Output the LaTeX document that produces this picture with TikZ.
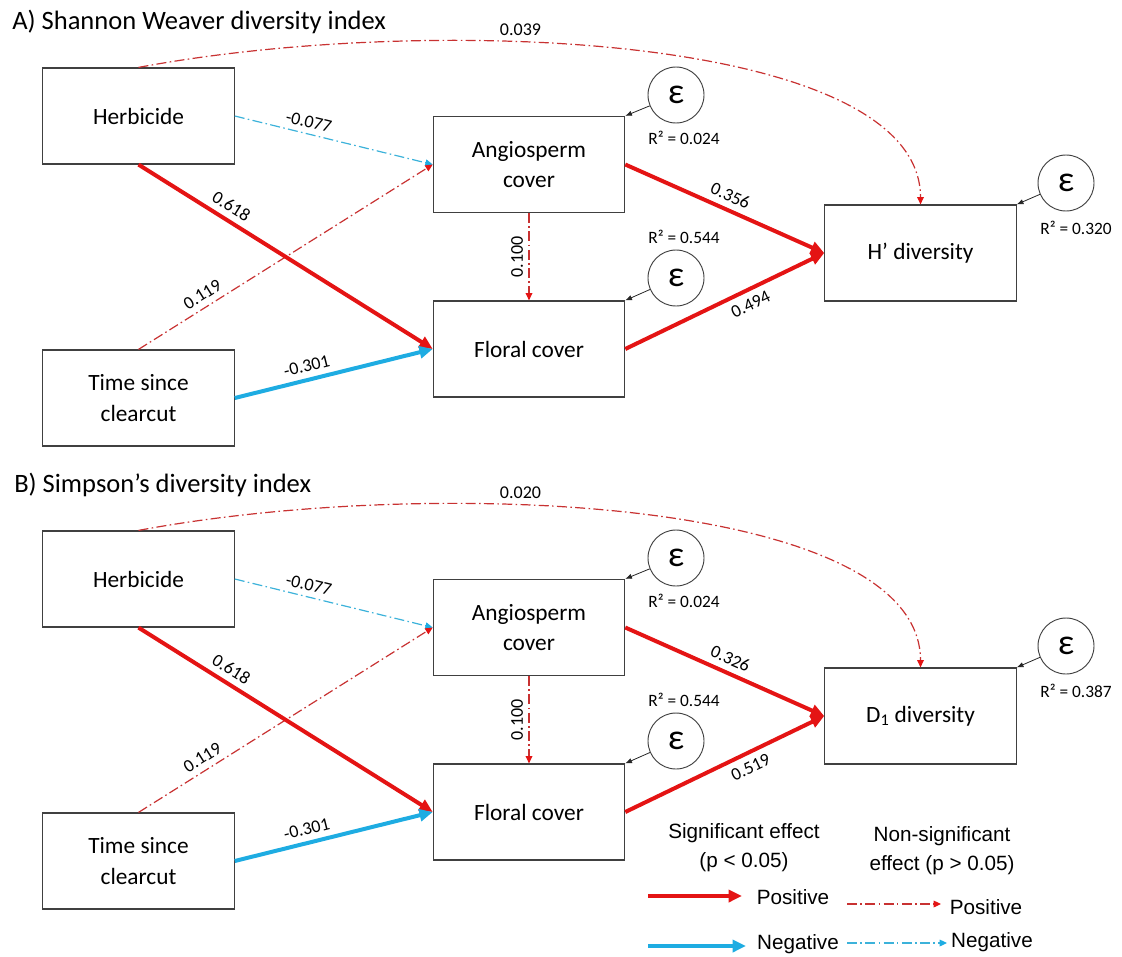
\documentclass[tikz,border=0pt]{standalone}
\usepackage{fontspec}
\setmainfont{Carlito}
\newfontfamily\legendfont{Liberation Sans}
\usepackage{xcolor}
\usepackage{tikz}
\usetikzlibrary{arrows.meta}

\definecolor{sigred}{RGB}{228,20,20}
\definecolor{sigblue}{RGB}{30,172,226}
\definecolor{nsred}{RGB}{200,50,50}
\definecolor{nsblue}{RGB}{60,178,218}

\begin{document}
\begin{tikzpicture}[
  x=0.75pt,y=-0.75pt,
  paneltitle/.style={font=\fontsize{19.9}{24}\selectfont,anchor=west,inner sep=0pt},
  var/.style={draw=black!75,line width=0.9pt,align=center,
    font=\fontsize{17.5}{23}\selectfont,minimum width=143.5pt,
    minimum height=72pt,inner sep=0pt},
  err/.style={circle,draw=black!75,line width=0.7pt,minimum size=42pt,
    inner sep=0pt,font=\fontsize{27}{27}\selectfont},
  rsq/.style={font=\fontsize{13}{15}\selectfont,inner sep=0pt},
  lab/.style={font=\fontsize{13.5}{15}\selectfont,inner sep=1.5pt},
  possig/.style={draw=sigred,line width=3pt,
    -{Triangle[length=10pt,width=9pt]}},
  negsig/.style={draw=sigblue,line width=3pt,
    -{Triangle[length=10pt,width=9pt]}},
  posns/.style={draw=nsred,line width=0.9pt,
    dash pattern=on 7.5pt off 2.5pt on 1.2pt off 2.5pt,
    -{Triangle[length=5.5pt,width=5pt,color=sigred]}},
  negns/.style={draw=nsblue,line width=0.9pt,
    dash pattern=on 7.5pt off 2.5pt on 1.2pt off 2.5pt,
    -{Triangle[length=5.5pt,width=5pt,color=sigblue]}},
  errarrow/.style={draw=black!85,line width=0.6pt,
    -{Latex[length=5pt,width=4pt]}},
  legend/.style={font=\legendfont\fontsize{15.5}{21.75}\selectfont,
    align=center,inner sep=0pt}
]
\useasboundingbox (0,0) rectangle (1122,957);

% A) Shannon Weaver
\node[paneltitle] (ta) at (12,22) {A) Shannon Weaver diversity index};
\node[var] (aherb) at (138.5,116) {Herbicide};
\node[var] (aang) at (529,164.5) {Angiosperm\\cover};
\node[var] (aflo) at (529,349) {Floral cover};
\node[var] (atime) at (138.5,398) {Time since\\clearcut};
\node[var] (adiv) at (920.5,253) {H’ diversity};
\node[err] (aeang) at (676,95) {ε};
\node[err] (aeflo) at (676,278) {ε};
\node[err] (aediv) at (1066,183) {ε};
\node[rsq] (arang) at (684,138) {R² = 0.024};
\node[rsq] (arflo) at (684,237) {R² = 0.544};
\node[rsq] (ardiv) at (1076,228) {R² = 0.320};

\draw[posns] (aherb.north) .. controls +(294.5,-55) and +(0,-170) ..
  (adiv.north) node[lab,pos=.38,above=3pt]{0.039};
\draw[negns] (aherb.east) -- node[lab,sloped,above=2.5pt,pos=.36]{-0.077} (aang.west);
\draw[posns] (atime.north) -- node[lab,sloped,above=3pt,pos=.24]{0.119} (aang.west);
\draw[posns] (aang.south) -- node[lab,rotate=90,anchor=south,pos=.5,yshift=2.5pt]{0.100} (aflo.north);
\draw[possig] (aherb.south) -- node[lab,sloped,above=3pt,pos=.29]{0.618} (aflo.west);
\draw[negsig] (atime.east) -- node[lab,sloped,above=3pt,pos=.38]{-0.301} (aflo.west);
\draw[possig] (aang.east) -- node[lab,sloped,above=3pt,pos=.5]{0.356} (adiv.west);
\draw[possig] (aflo.east) -- node[lab,sloped,below=3pt,pos=.6]{0.494} (adiv.west);
\foreach \e/\v in {aeang/aang,aeflo/aflo,aediv/adiv}
  \draw[errarrow] (\e) -- (\v.north east);

% B) Simpson
\node[paneltitle] (tb) at (14,485) {B) Simpson’s diversity index};
\node[var] (bherb) at (138.5,579) {Herbicide};
\node[var] (bang) at (529,627.5) {Angiosperm\\cover};
\node[var] (bflo) at (529,812) {Floral cover};
\node[var] (btime) at (138.5,861) {Time since\\clearcut};
\node[var] (bdiv) at (920.5,716) {D\textsubscript{1} diversity};
\node[err] (beang) at (676,558) {ε};
\node[err] (beflo) at (676,741) {ε};
\node[err] (bediv) at (1066,646) {ε};
\node[rsq] (brang) at (684,601) {R² = 0.024};
\node[rsq] (brflo) at (684,700) {R² = 0.544};
\node[rsq] (brdiv) at (1076,691) {R² = 0.387};

\draw[posns] (bherb.north) .. controls +(294.5,-55) and +(0,-170) ..
  (bdiv.north) node[lab,pos=.38,above=3pt]{0.020};
\draw[negns] (bherb.east) -- node[lab,sloped,above=2.5pt,pos=.36]{-0.077} (bang.west);
\draw[posns] (btime.north) -- node[lab,sloped,above=3pt,pos=.24]{0.119} (bang.west);
\draw[posns] (bang.south) -- node[lab,rotate=90,anchor=south,pos=.5,yshift=2.5pt]{0.100} (bflo.north);
\draw[possig] (bherb.south) -- node[lab,sloped,above=3pt,pos=.29]{0.618} (bflo.west);
\draw[negsig] (btime.east) -- node[lab,sloped,above=3pt,pos=.38]{-0.301} (bflo.west);
\draw[possig] (bang.east) -- node[lab,sloped,above=3pt,pos=.5]{0.326} (bdiv.west);
\draw[possig] (bflo.east) -- node[lab,sloped,below=3pt,pos=.6]{0.519} (bdiv.west);
\foreach \e/\v in {beang/bang,beflo/bflo,bediv/bdiv}
  \draw[errarrow] (\e) -- (\v.north east);

% legend
\node[legend] (lsig) at (744,847.5) {Significant effect\\(p < 0.05)};
\node[legend] (lns) at (942,850.5) {Non-significant\\effect (p > 0.05)};
\node[legend] (lps) at (793,897) {Positive};
\node[legend] (lpn) at (986,907) {Positive};
\node[legend] (lns2) at (798,944) {Negative};
\node[legend] (lnn) at (992,942) {Negative};
\coordinate (ps1) at (648,896);  \coordinate (ps2) at (742,896);
\coordinate (pn1) at (847,904);  \coordinate (pn2) at (941,904);
\coordinate (ns1) at (648,946);  \coordinate (ns2) at (746,946);
\coordinate (nn1) at (847,943);  \coordinate (nn2) at (947,943);
\draw[possig] (ps1) -- (ps2);
\draw[posns] (pn1) -- (pn2);
\draw[negsig] (ns1) -- (ns2);
\draw[negns] (nn1) -- (nn2);
\end{tikzpicture}
\end{document}
